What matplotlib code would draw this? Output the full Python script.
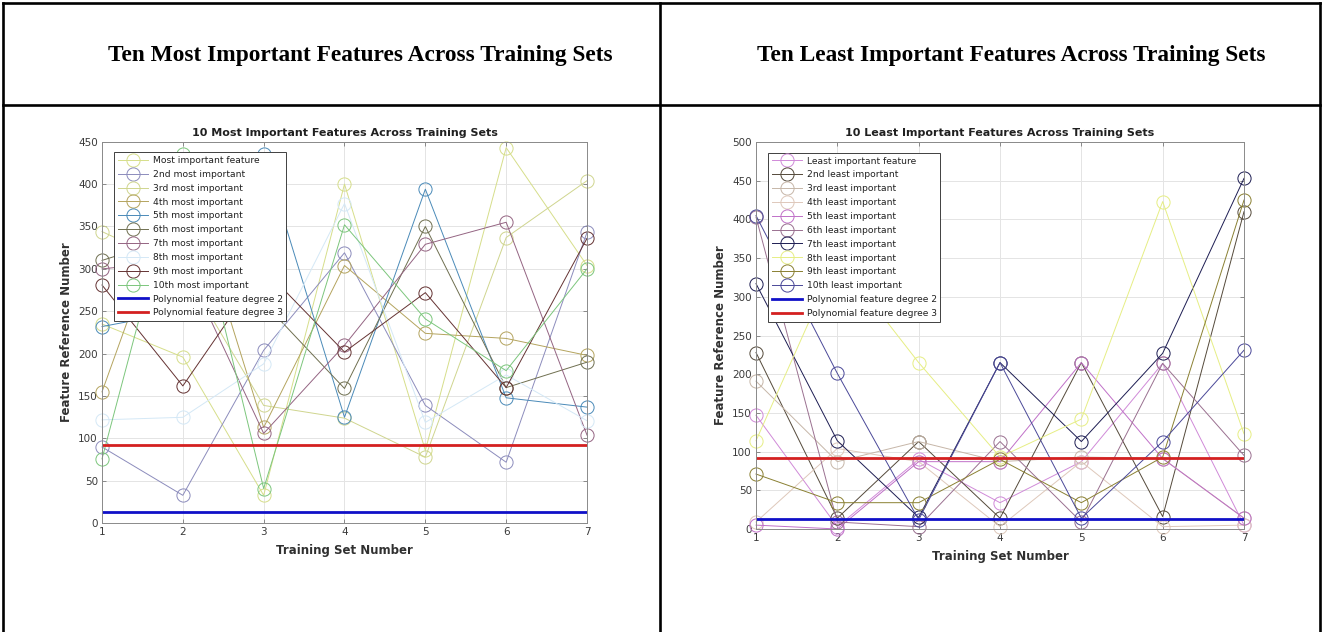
import matplotlib
matplotlib.use("Agg")
import matplotlib.pyplot as plt
from matplotlib.lines import Line2D

# ---------------- data ----------------
training_sets = [1, 2, 3, 4, 5, 6, 7]

most_labels = ["Most important feature", "2nd most important", "3rd most important",
               "4th most important", "5th most important", "6th most important",
               "7th most important", "8th most important", "9th most important",
               "10th most important"]
most1 = [235, 196, 33, 400, 86, 443, 304]
most2 = [90, 33, 204, 319, 139, 72, 343]
most3 = [344, 300, 139, 124, 78, 337, 404]
most4 = [155, 420, 113, 304, 224, 218, 198]
most5 = [232, 250, 435, 125, 394, 148, 137]
most6 = [310, 340, 260, 159, 350, 160, 190]
most7 = [300, 310, 106, 210, 329, 355, 104]
most8 = [122, 125, 188, 377, 119, 175, 121]
most9 = [281, 162, 300, 202, 272, 160, 336]
most10 = [76, 435, 41, 352, 241, 180, 300]
most_series = [most1, most2, most3, most4, most5, most6, most7, most8, most9, most10]
most_colors = ["#d6de8a", "#8c8cbc", "#cfd58e", "#b4a45e", "#4a8ab8",
               "#6f6f50", "#946482", "#d4e8f6", "#643232", "#7cc67c"]

least_labels = ["Least important feature", "2nd least important", "3rd least important",
                "4th least important", "5th least important", "6th least important",
                "7th least important", "8th least important", "9th least important",
                "10th least important"]
least1 = [147, 3, 90, 34, 87, 214, 5]
least2 = [228, 14, 113, 14, 215, 16, 410]
least3 = [191, 87, 113, 87, 93, 91, 14]
least4 = [9, 104, 87, 3, 87, 3, 5]
least5 = [5, 0, 87, 87, 215, 91, 14]
least6 = [403, 9, 3, 113, 9, 214, 95]
least7 = [317, 114, 15, 215, 113, 227, 453]
least8 = [114, 350, 215, 93, 142, 423, 123]
least9 = [71, 34, 34, 90, 34, 93, 425]
least10 = [405, 201, 12, 215, 14, 113, 231]
least_series = [least1, least2, least3, least4, least5, least6, least7, least8, least9, least10]
least_colors = ["#d08ad8", "#54493a", "#c6b6a8", "#dec8ba", "#c070c8",
                "#9a7090", "#1c1c52", "#e6ee84", "#8a8032", "#4a4898"]

poly_labels = ["Polynomial feature degree 2", "Polynomial feature degree 3"]
poly_levels = [13, 92]
poly_colors = ["#1010c8", "#d42020"]

header_titles = ["Ten Most Important Features Across Training Sets",
                 "Ten Least Important Features Across Training Sets"]
chart_titles = ["10 Most Important Features Across Training Sets",
                "10 Least Important Features Across Training Sets"]
x_label = "Training Set Number"
y_label = "Feature Reference Number"
y_ticks_left = [0, 50, 100, 150, 200, 250, 300, 350, 400, 450]
y_ticks_right = [0, 50, 100, 150, 200, 250, 300, 350, 400, 450, 500]

# ---------------- figure ----------------
W, H = 1324, 632
fig = plt.figure(figsize=(W / 100, H / 100), dpi=100)
fig.patch.set_facecolor("white")

def px_rect(x0, y0, x1, y1):
    return [x0 / W, 1 - y1 / H, (x1 - x0) / W, (y1 - y0) / H]

# table lines
lw_tab = 1.9
def fline(x0, y0, x1, y1):
    fig.add_artist(Line2D([x0 / W, x1 / W], [1 - y0 / H, 1 - y1 / H],
                          color="black", lw=lw_tab, transform=fig.transFigure,
                          solid_capstyle="projecting"))
fline(3, 3, 1320, 3)
fline(3, 3, 3, 632)
fline(1320, 3, 1320, 632)
fline(660, 3, 660, 632)
fline(3, 105, 1320, 105)

fig.text(360 / W, 1 - 55 / H, header_titles[0], ha="center", va="center",
         fontsize=16.8, fontweight="bold", family="Liberation Serif")
fig.text(1011 / W, 1 - 55 / H, header_titles[1], ha="center", va="center",
         fontsize=16.8, fontweight="bold", family="Liberation Serif")

def make_chart(rect, series, labels, colors, yticks, ylim, title, leg_anchor):
    ax = fig.add_axes(rect)
    for vals, lab, col in zip(series, labels, colors):
        ax.plot(training_sets, vals, color=col, lw=0.7, marker="o", markersize=9.5,
                markerfacecolor="none", markeredgecolor=col, markeredgewidth=0.7,
                label=lab, clip_on=False)
    for lvl, lab, col in zip(poly_levels, poly_labels, poly_colors):
        ax.plot([training_sets[0], training_sets[-1]], [lvl, lvl], color=col, lw=2.0,
                label=lab)
    ax.set_xlim(1, 7)
    ax.set_ylim(*ylim)
    ax.set_xticks(training_sets)
    ax.set_yticks(yticks)
    ax.grid(True, color="#e4e4e4", lw=0.7)
    ax.set_axisbelow(True)
    for s in ax.spines.values():
        s.set_color("#8a8a8a")
        s.set_linewidth(0.7)
    ax.tick_params(direction="in", length=3, width=0.6, color="#7a7a7a",
                   labelsize=7.5, labelcolor="#3a3a3a", top=True, right=True, pad=3)
    ax.set_title(title, fontsize=8, fontweight="bold", color="#202020", pad=4)
    ax.set_xlabel(x_label, fontsize=8.5, fontweight="bold", color="#303030", labelpad=5)
    ax.set_ylabel(y_label, fontsize=8.5, fontweight="bold", color="#303030", labelpad=4)
    leg = ax.legend(loc="upper left", bbox_to_anchor=leg_anchor, borderaxespad=0,
                    fontsize=6.6, frameon=True, fancybox=False, framealpha=1,
                    edgecolor="#404040", handlelength=3.3, handletextpad=0.5,
                    labelspacing=0.53, borderpad=0.4, markerscale=1.0)
    leg.get_frame().set_linewidth(0.7)
    for t in leg.get_texts():
        t.set_color("#202020")
    return ax

make_chart(px_rect(102, 141.7, 587, 523.3), most_series, most_labels, most_colors,
           y_ticks_left, (0, 450), chart_titles[0], (0.025, 0.972))
make_chart(px_rect(756, 142, 1244, 529), least_series, least_labels, least_colors,
           y_ticks_right, (0, 500), chart_titles[1], (0.025, 0.972))

fig.savefig("out.png", dpi=100, facecolor="white")
